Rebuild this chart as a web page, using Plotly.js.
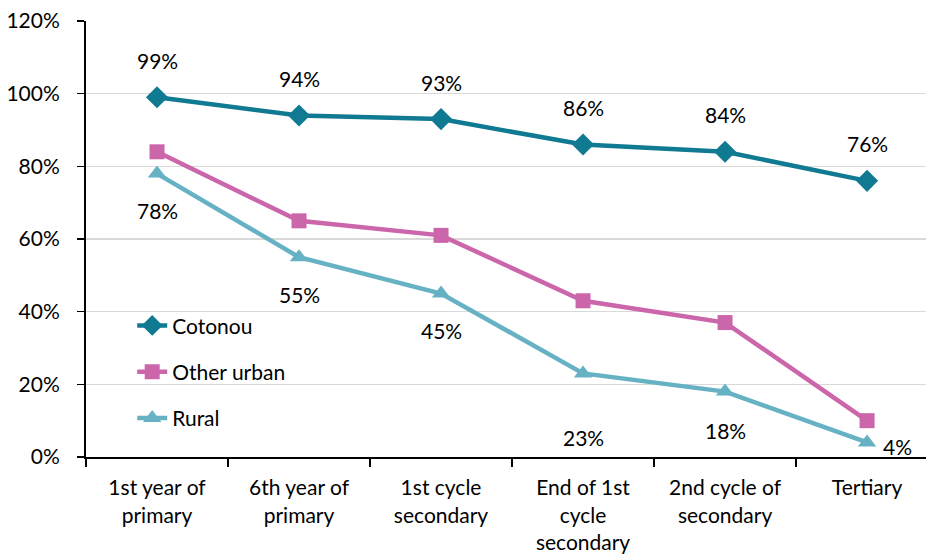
<!DOCTYPE html>
<html><head><meta charset="utf-8">
<script src="https://cdn.plot.ly/plotly-3.0.1.min.js"></script>
<style>html,body{margin:0;padding:0;background:#fff}</style>
</head><body><div id="chart" style="width:926px;height:558px"></div>
<script>
const categories = ["1st year of<br>primary","6th year of<br>primary","1st cycle<br>secondary","End of 1st<br>cycle<br>secondary","2nd cycle of<br>secondary","Tertiary"];
const cotonou = [99,94,93,86,84,76];
const otherUrban = [84,65,61,43,37,10];
const rural = [78,55,45,23,18,4];
const yTickVals = [0,20,40,60,80,100,120];
const yTickText = ["0%","20%","40%","60%","80%","100%","120%"];

const FONT = "Lato, 'Open Sans', sans-serif";
const FS = 21;
const cCot = "#117A93", cOth = "#CC66AA", cRur = "#66B2C4";

function tr(name, y, color, symbol, size, grp){
  return {x: categories, y: y, name: name, type: "scatter", mode: "lines+markers",
    line: {color: color, width: 4.5}, marker: {symbol: symbol, size: size, color: color},
    legendgroup: grp, cliponaxis: false};
}
const data = [
  tr("Cotonou", cotonou, cCot, "diamond", 17, "a"),
  tr("Other urban", otherUrban, cOth, "square", 15, "b"),
  tr("Rural", rural, cRur, "triangle-up", 16, "c")
];

const annotations = [];
cotonou.forEach((v,i)=>annotations.push({x: categories[i], y: v, text: v+"%", showarrow:false, yshift: 37, font:{size:FS, color:"#000", family:FONT}}));
const ruralShift = [-37,-37,-37,-64,-39,-4];
rural.forEach((v,i)=>annotations.push({x: categories[i], y: v, text: v+"%", showarrow:false, yshift: ruralShift[i], xshift: i===5?30:0, font:{size:FS, color:"#000", family:FONT}}));

const layout = {
  width: 926, height: 558,
  margin: {l: 86, r: 0, t: 21, b: 101},
  paper_bgcolor: "#fff", plot_bgcolor: "#fff",
  font: {family: FONT, size: FS, color: "#000"},
  showlegend: true,
  legend: {x: 0.055, y: 0.348, xanchor: "left", yanchor: "top", bgcolor: "rgba(0,0,0,0)",
    traceorder: "grouped", tracegroupgap: 16, font: {size: FS, family: FONT}},
  xaxis: {type: "category", range: [-0.5, 5.415], showgrid: false, zeroline: false,
    showline: true, linecolor: "#000", linewidth: 2, ticks: "outside", tickson: "boundaries",
    ticklen: 8, tickwidth: 1.5, tickcolor: "#000", ticklabelstandoff: 11,
    tickfont: {size: FS, family: FONT}},
  yaxis: {range: [0, 120], tickvals: yTickVals, ticktext: yTickText, showgrid: true,
    gridcolor: "#D9D9D9", gridwidth: 1.5, zeroline: false, showline: true, linecolor: "#000",
    linewidth: 2, ticks: "outside", ticklen: 7, tickwidth: 1.5, tickcolor: "#000",
    ticklabelstandoff: 13, tickfont: {size: FS, family: FONT}},
  annotations: annotations
};
Plotly.newPlot("chart", data, layout, {displayModeBar: false, staticPlot: true});
</script></body></html>
